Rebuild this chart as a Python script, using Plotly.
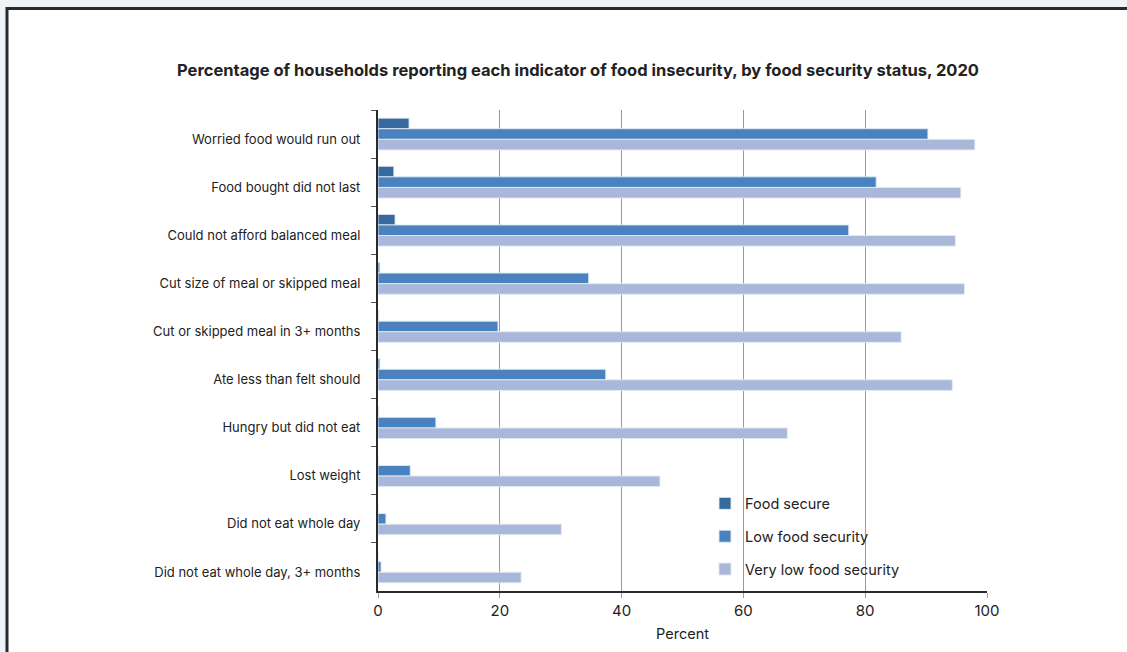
import plotly.graph_objects as go

categories = [
    "Worried food would run out",
    "Food bought did not last",
    "Could not afford balanced meal",
    "Cut size of meal or skipped meal",
    "Cut or skipped meal in 3+ months",
    "Ate less than felt should",
    "Hungry but did not eat",
    "Lost weight",
    "Did not eat whole day",
    "Did not eat whole day, 3+ months",
]
food_secure = [5.1, 2.6, 2.8, 0.3, 0.1, 0.3, 0.1, 0.0, 0.0, 0.0]
low_food_security = [90.3, 81.8, 77.3, 34.6, 19.7, 37.4, 9.5, 5.3, 1.3, 0.5]
very_low_food_security = [98.0, 95.7, 94.8, 96.3, 85.9, 94.3, 67.2, 46.3, 30.1, 23.5]
x_ticks = [0, 20, 40, 60, 80, 100]

series = [
    ("Food secure", food_secure, "#36699e"),
    ("Low food security", low_food_security, "#4a82c0"),
    ("Very low food security", very_low_food_security, "#a9b8d8"),
]

W, H = 1127, 652
L, R, T, B = 378, 987, 110, 593
pw, ph = R - L, B - T


def px_x(p):
    return (p - L) / pw


def px_y(p):
    return (B - p) / ph


fig = go.Figure()
for i, (name, vals, col) in enumerate(series):
    fig.add_trace(go.Bar(
        y=categories, x=vals, name=name, orientation="h",
        marker=dict(color=col, line=dict(color="rgba(225,233,245,0.9)", width=1)),
        legendgroup=f"g{i}",
    ))

font = "Inter, Liberation Sans, Arial, sans-serif"

fig.update_layout(
    width=W, height=H,
    margin=dict(l=L, r=W - R, t=T, b=H - B, pad=0),
    paper_bgcolor="#eef3f7",
    plot_bgcolor="white",
    barmode="group",
    bargap=0.34,
    bargroupgap=0,
    font=dict(family=font, color="#222222"),
    title=dict(
        text="<b>Percentage of households reporting each indicator of food insecurity, by food security status, 2020</b>",
        x=578 / W, xanchor="center", y=1 - 70 / H, yanchor="middle",
        font=dict(family=font, size=16.5, color="#222222"),
    ),
    legend=dict(
        x=px_x(705), y=px_y(489), xanchor="left", yanchor="top",
        bgcolor="rgba(0,0,0,0)", font=dict(size=14.5, color="#222222"),
        traceorder="grouped", tracegroupgap=11, itemwidth=30,
    ),
    shapes=[
        dict(type="rect", xref="paper", yref="paper", layer="below",
             x0=px_x(7), x1=px_x(1140), y0=px_y(665), y1=px_y(8),
             fillcolor="white", line=dict(color="#2a2a2a", width=3)),
    ],
)

fig.update_xaxes(
    range=[0, 100], tickvals=x_ticks, ticktext=[str(v) for v in x_ticks],
    showgrid=True, gridcolor="#9a9a9a", gridwidth=1,
    showline=True, linecolor="#2a2a2a", linewidth=2,
    ticks="outside", ticklen=5, tickcolor="#9a9a9a",
    tickfont=dict(size=15, color="#222222"),
    title=dict(text="Percent", font=dict(size=14.5, color="#222222"), standoff=10),
    zeroline=False,
)
fig.update_yaxes(
    autorange="reversed",
    showline=True, linecolor="#2a2a2a", linewidth=2,
    ticks="outside", ticklen=5, tickcolor="#555555", tickson="boundaries",
    tickfont=dict(size=13, color="#222222"),
    ticklabelstandoff=13,
    ticklabelshift=-5,
    showgrid=False,
)

fig.write_html("out.html", config={"displayModeBar": False},
               post_script="document.body.style.margin='0';document.body.style.overflow='hidden';")
